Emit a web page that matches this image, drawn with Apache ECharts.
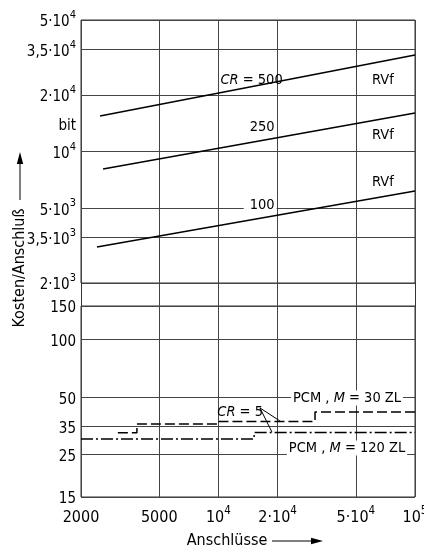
<!DOCTYPE html>
<html>
<head>
<meta charset="utf-8">
<script src="https://cdn.jsdelivr.net/npm/echarts@6/dist/echarts.min.js"></script>
<style>
html,body{margin:0;padding:0;background:#fff;}
#c{width:424px;height:549px;}
</style>
</head>
<body>
<div id="c"></div>
<script>
// ---------- data ----------
const xTicks = [2000, 5000, 10000, 20000, 50000, 100000];
const xTickLabels = ['2000', '5000', '10{s|4}', '2·10{s|4}', '5·10{s|4}', '10{s|5}'];

const yUpperTicks = [2000, 3500, 5000, 10000, 20000, 35000, 50000];
const yUpperLabels = ['2·10{s|3}', '3,5·10{s|3}', '5·10{s|3}', '10{s|4}', '2·10{s|4}', '3,5·10{s|4}', '5·10{s|4}'];
const yUnitValue = 14100;
const yUnitLabel = 'bit';

const yLowerTicks = [15, 25, 35, 50, 100, 150];
const yLowerLabels = ['15', '25', '35', '50', '100', '150'];

// RVf cost lines (x = Anschlüsse, y = Kosten/Anschluß)
const cr500 = [[2500, 15450], [100000, 32600]];
const cr250 = [[2590, 8070], [100000, 16000]];
const cr100 = [[2410, 3105], [100000, 6170]];

// PCM step lines
const pcm30 = [[3080, 32.5], [3850, 36.2], [10000, 37.3], [31000, 41.8], [100000, 41.8]];
const pcm120 = [[2000, 30.2], [15200, 32.6], [100000, 32.6]];

// ---------- helpers ----------
const L = Math.log10;
const FONT = '"Liberation Sans Narrow", "DejaVu Sans Condensed", sans-serif';
const INK = '#000';
const GRIDC = '#444';
const BORDER = '#333';
const toLog = arr => arr.map(p => [L(p[0]), L(p[1])]);
function makeRich(bs, ss) {
  return {
    b: {fontFamily: FONT, fontSize: bs, color: INK, lineHeight: bs + 5, verticalAlign: 'bottom'},
    s: {fontFamily: FONT, fontSize: ss, color: INK, lineHeight: ss + 2, verticalAlign: 'top'}
  };
}
const richY = makeRich(15, 11);
const richX = makeRich(16, 11.5);
const richNote = {
  i: {fontFamily: FONT, fontSize: 14.5, color: INK, fontStyle: 'italic'},
  n: {fontFamily: FONT, fontSize: 14.5, color: INK}
};
function wrap(t) {
  return t.split(/(\{s\|[^}]*\})/).filter(x => x).map(x => x.startsWith('{s|') ? x : '{b|' + x + '}').join('');
}
function fmtFrom(ticks, labels, extra) {
  return function (v) {
    for (let k = 0; k < ticks.length; k++) {
      if (Math.abs(L(ticks[k]) - v) < 1e-6) return wrap(labels[k]);
    }
    if (extra && Math.abs(L(extra[0]) - v) < 1e-6) return wrap(extra[1]);
    return '';
  };
}

const X0 = L(2000), X1 = L(100000);
const gridLeft = 81, gridRight = 9;

function xAxisDef(gridIndex, showLabels) {
  return {
    type: 'value', gridIndex: gridIndex, min: X0, max: X1,
    axisLine: {show: false}, axisTick: {show: false, customValues: xTicks.map(L)},
    splitLine: {show: true, lineStyle: {color: GRIDC, width: 1}},
    axisLabel: showLabels ? {
      show: true, customValues: xTicks.map(L), formatter: fmtFrom(xTicks, xTickLabels),
      rich: richX, margin: 8, showMinLabel: true, showMaxLabel: true, hideOverlap: false
    } : {show: false}
  };
}

function yAxisDef(gridIndex, ticks, labels, extra) {
  const labelVals = ticks.map(L);
  if (extra) labelVals.push(L(extra[0]));
  return {
    type: 'value', gridIndex: gridIndex, min: L(ticks[0]), max: L(ticks[ticks.length - 1]),
    axisLine: {show: false}, axisTick: {show: false, customValues: ticks.map(L)},
    splitLine: {show: true, lineStyle: {color: GRIDC, width: 1}},
    axisLabel: {
      show: true, customValues: labelVals, formatter: fmtFrom(ticks, labels, extra),
      rich: richY, margin: 5, showMinLabel: true, showMaxLabel: true, hideOverlap: false
    }
  };
}

function gapYAxis(pos) {
  return {
    type: 'value', gridIndex: 1, min: 0, max: 1, position: pos,
    axisLine: {show: true, onZero: false, lineStyle: {color: BORDER, width: 1}},
    axisTick: {show: false}, axisLabel: {show: false}, splitLine: {show: false}
  };
}

function noteSeries(xi, yi, notes, markLines) {
  return {
    type: 'scatter', xAxisIndex: xi, yAxisIndex: yi, symbolSize: 0, silent: true, z: 5,
    itemStyle: {opacity: 1},
    data: notes.map(n => ({
      value: [L(n.x), L(n.y)],
      label: {
        show: true, formatter: n.text, position: n.pos || 'inside', distance: n.dist || 0,
        fontFamily: FONT, fontSize: 14.5, color: INK, rich: richNote, textBorderWidth: 0, opacity: 1,
        backgroundColor: n.bg ? '#fff' : 'transparent', padding: n.pad || 0
      }
    })),
    markLine: markLines ? {
      silent: true, symbol: 'none', animation: false,
      lineStyle: {color: INK, width: 1, type: 'solid', opacity: 1}, label: {show: false},
      data: markLines.map(m => [{coord: [L(m[0][0]), L(m[0][1])]}, {coord: [L(m[1][0]), L(m[1][1])]}])
    } : undefined
  };
}

const upperNotes = [
  {text: '{i|CR}{n| = 500}', x: 10000, y: 24000, pos: 'right', dist: 2},
  {text: '{n|250}', x: 20000, y: 13500, pos: 'left', dist: 3},
  {text: '{n|100}', x: 20000, y: 5190, pos: 'left', dist: 1, bg: true, pad: [0, 2, 0, 6]},
  {text: '{n|RVf}', x: 68700, y: 24000},
  {text: '{n|RVf}', x: 68700, y: 12200},
  {text: '{n|RVf}', x: 68700, y: 6870}
];
const lowerNotes = [
  {text: '{i|CR}{n| = 5}', x: 12900, y: 41.8},
  {text: '{n|PCM , }{i|M}{n| = 30 ZL}', x: 45100, y: 49.5, bg: true, pad: [0, 2]},
  {text: '{n|PCM , }{i|M}{n| = 120 ZL}', x: 45100, y: 27.1, bg: true, pad: [0, 2]}
];
const leaders = [
  [[16270, 43.9], [20560, 37.5]],
  [[16270, 43.9], [18730, 32.8]]
];

const lineStyleSolid = {color: INK, width: 1.5};
const gridBase = {left: gridLeft, right: gridRight, borderColor: BORDER, borderWidth: 1,
  containLabel: false, outerBoundsMode: 'none'};

const option = {
  animation: false,
  backgroundColor: '#fff',
  textStyle: {fontFamily: FONT},
  grid: [
    Object.assign({top: 20, height: 263, show: true}, gridBase),
    Object.assign({top: 283, height: 23, show: false}, gridBase),
    Object.assign({top: 306, height: 191, show: true}, gridBase)
  ],
  xAxis: [xAxisDef(0, false), xAxisDef(1, false), xAxisDef(2, true)],
  yAxis: [
    yAxisDef(0, yUpperTicks, yUpperLabels, [yUnitValue, yUnitLabel]),
    gapYAxis('left'),
    gapYAxis('right'),
    yAxisDef(2, yLowerTicks, yLowerLabels)
  ],
  series: [
    {type: 'line', xAxisIndex: 0, yAxisIndex: 0, data: toLog(cr500), symbol: 'none', lineStyle: lineStyleSolid, z: 3},
    {type: 'line', xAxisIndex: 0, yAxisIndex: 0, data: toLog(cr250), symbol: 'none', lineStyle: lineStyleSolid, z: 3},
    {type: 'line', xAxisIndex: 0, yAxisIndex: 0, data: toLog(cr100), symbol: 'none', lineStyle: lineStyleSolid, z: 3},
    {type: 'line', xAxisIndex: 2, yAxisIndex: 3, data: toLog(pcm30), step: 'end', symbol: 'none',
      lineStyle: {color: INK, width: 1.5, type: [10, 4]}, z: 3},
    {type: 'line', xAxisIndex: 2, yAxisIndex: 3, data: toLog(pcm120), step: 'end', symbol: 'none',
      lineStyle: {color: INK, width: 1.5, type: [12, 3, 2, 3]}, z: 3},
    noteSeries(0, 0, upperNotes),
    noteSeries(2, 3, lowerNotes, leaders)
  ],
  graphic: [
    {type: 'text', x: 20, y: 268, rotation: Math.PI / 2,
      style: {text: 'Kosten/Anschluß', font: '16px ' + FONT, fill: INK, align: 'center', verticalAlign: 'middle'}},
    {type: 'line', shape: {x1: 20, y1: 200, x2: 20, y2: 162}, style: {stroke: INK, lineWidth: 1}},
    {type: 'polygon', shape: {points: [[20, 152], [16.8, 164], [23.2, 164]]}, style: {fill: INK}},
    {type: 'text', x: 227, y: 541,
      style: {text: 'Anschlüsse', font: '16px ' + FONT, fill: INK, align: 'center', verticalAlign: 'middle'}},
    {type: 'line', shape: {x1: 272, y1: 541, x2: 312, y2: 541}, style: {stroke: INK, lineWidth: 1}},
    {type: 'polygon', shape: {points: [[323, 541], [311, 537.8], [311, 544.2]]}, style: {fill: INK}}
  ]
};

const chart = echarts.init(document.getElementById('c'), null, {renderer: 'canvas'});
chart.setOption(option);
</script>
</body>
</html>
